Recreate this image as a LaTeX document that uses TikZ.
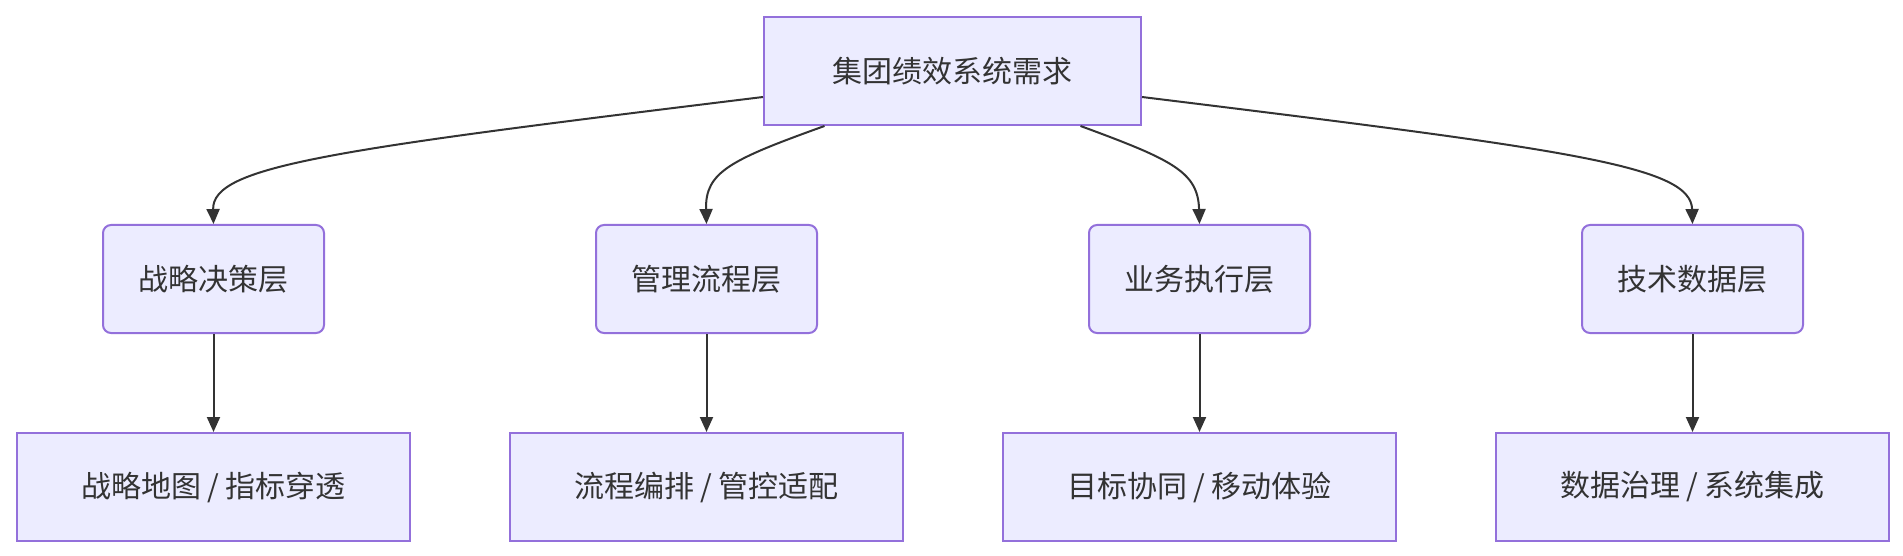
\documentclass[tikz,border=0pt]{standalone}
\usepackage{fontspec}
\setmainfont{Noto Sans CJK SC}
\usetikzlibrary{arrows.meta}
\definecolor{nodefill}{HTML}{ECECFF}
\definecolor{nodeborder}{HTML}{9370DB}
\definecolor{ink}{HTML}{333333}
\tikzset{
  boxbase/.style={draw=nodeborder, fill=nodefill, line width=2pt, text=ink, inner sep=0pt,
    font=\fontsize{30}{36}\selectfont, anchor=north west},
  topbox/.style={boxbase, minimum width=377pt, minimum height=108pt},
  midbox/.style={boxbase, rounded corners=8pt, minimum width=221pt, minimum height=108pt},
  botbox/.style={boxbase, minimum width=393pt, minimum height=108pt},
  link/.style={draw=ink, line width=2pt, -{Triangle[length=15pt,width=13pt]}}
}
\begin{document}
\begin{tikzpicture}[x=1pt,y=-1pt]
\useasboundingbox (0,0) rectangle (1903,556);
\node[topbox] (top) at (763,16) {集团绩效系统需求};
\node[midbox] (m1) at (102,224) {战略决策层};
\node[midbox] (m2) at (595,224) {管理流程层};
\node[midbox] (m3) at (1088,224) {业务执行层};
\node[midbox] (m4) at (1581,224) {技术数据层};
\node[botbox] (b1) at (16,432) {战略地图\hspace{0.2em}/\hspace{0.2em}指标穿透};
\node[botbox] (b2) at (509,432) {流程编排\hspace{0.2em}/\hspace{0.2em}管控适配};
\node[botbox] (b3) at (1002,432) {目标协同\hspace{0.2em}/\hspace{0.2em}移动体验};
\node[botbox] (b4) at (1495,432) {数据治理\hspace{0.2em}/\hspace{0.2em}系统集成};
\draw[link] ([yshift=-26pt]top.west) .. controls (330,150) and (212,166) .. (m1.north);
\draw[link] ([xshift=-128pt]top.south) .. controls (730,160) and (705,172) .. (m2.north);
\draw[link] ([xshift=128pt]top.south) .. controls (1173,160) and (1198,172) .. (m3.north);
\draw[link] ([yshift=-26pt]top.east) .. controls (1573,150) and (1691,166) .. (m4.north);
\draw[link] (m1.south) -- (b1.north);
\draw[link] (m2.south) -- (b2.north);
\draw[link] (m3.south) -- (b3.north);
\draw[link] (m4.south) -- (b4.north);
\end{tikzpicture}
\end{document}
